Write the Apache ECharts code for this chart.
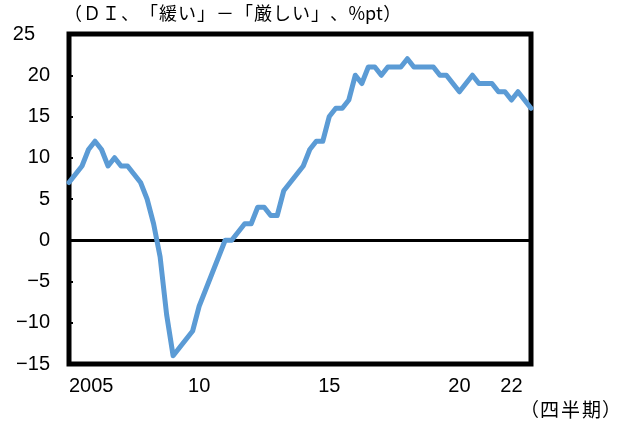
<!DOCTYPE html>
<html>
<head>
<meta charset="utf-8">
<script src="https://cdn.jsdelivr.net/npm/echarts@6/dist/echarts.min.js"></script>
<style>
  html, body { margin: 0; padding: 0; background: #fff; }
  #chart { width: 623px; height: 428px; }
</style>
</head>
<body>
<div id="chart"></div>
<script>
(function(){

// quarters 2005Q1 .. 2022Q4
var quarters = []
for (var y = 2005; y <= 2022; y++) {
	for (var q = 1; q <= 4; q++) quarters.push(y + 'Q' + q)
}

// DI values
var diValues = [
	7, 8, 9, 11, 12, 11, 9, 10, 9, 9, 8, 7,
	5, 2, -2, -9, -14, -13, -12, -11, -8, -6, -4, -2,
	0, 0, 1, 2, 2, 4, 4, 3, 3, 6, 7, 8,
	9, 11, 12, 12, 15, 16, 16, 17, 20, 19, 21, 21,
	20, 21, 21, 21, 22, 21, 21, 21, 21, 20, 20, 19,
	18, 19, 20, 19, 19, 19, 18, 18, 17, 18, 17, 16
]

// x tick labels at Q1 of these years
var tickLabels = { '2005Q1': '2005', '2010Q1': '10', '2015Q1': '15', '2020Q1': '20', '2022Q1': '22' }

var yTicks = { min: -15, max: 25, step: 5 }

var titleParts = ['（', 'Ｄ', 'Ｉ', '、', '「', '緩', 'い', '」', '－', '「', '厳', 'し', 'い', '」', '、', '%pt', '）']
var unitParts = ['（', '四', '半', '期', '）']

var labelFont = '"Liberation Sans", sans-serif'
var cjkFont = '"Noto Sans CJK JP", sans-serif'

// each full-width glyph gets a fixed 1em cell, like a monospaced gothic font
function richText(parts) {
	return parts.map(function(p) {
		return (p.length > 1 ? '{h|' : '{c|') + p + '}'
	}).join('')
}

function unitText(parts) {
	return parts.map(function(p) {
		var k = p === '（' ? 'o' : (p === '）' ? 'x' : 'c')
		return '{' + k + '|' + p + '}'
	}).join('')
}

var chart = echarts.init(document.getElementById('chart'))

chart.setOption({
	animation: false,
	backgroundColor: '#fff',
	grid: {
		left: 69, right: 92, top: 34, bottom: 64,
		show: true, borderColor: '#000', borderWidth: 5,
		containLabel: false
	},
	xAxis: {
		type: 'category',
		data: quarters,
		boundaryGap: false,
		axisLine: { show: false, onZero: false },
		axisTick: { show: false },
		splitLine: { show: false },
		axisLabel: {
			interval: function(idx, val) { return tickLabels[val] !== undefined },
			formatter: function(val) { return tickLabels[val] || '' },
			color: '#000',
			fontSize: 20,
			fontFamily: labelFont,
			margin: 12,
			alignMinLabel: 'left'
		}
	},
	yAxis: {
		type: 'value',
		min: yTicks.min,
		max: yTicks.max,
		interval: yTicks.step,
		axisLine: { show: false },
		axisTick: { show: true, inside: true, length: 4, lineStyle: { color: '#000', width: 2 } },
		splitLine: { show: false },
		axisLabel: {
			color: '#000',
			fontSize: 20,
			fontFamily: labelFont,
			margin: 19,
			formatter: function(v) {
				var s = String(v).replace('-', '−')
				return v === yTicks.max ? '{top|' + s + '}' : s
			},
			rich: {
				top: { fontSize: 20, fontFamily: labelFont, color: '#000', padding: [0, 15, 0, 0] }
			}
		}
	},
	series: [{
		type: 'line',
		data: diValues,
		symbol: 'none',
		lineStyle: { color: '#5B9BD5', width: 5, cap: 'round', join: 'round' },
		z: 3,
		markLine: {
			silent: true,
			symbol: 'none',
			label: { show: false },
			lineStyle: { color: '#000', width: 3, type: 'solid' },
			data: [{ yAxis: 0 }],
			z: 2
		}
	}],
	graphic: [
		{
			type: 'text',
			left: 64, top: 4,
			style: {
				text: richText(titleParts),
				rich: {
					c: { fill: '#000', fontSize: 18, fontFamily: cjkFont, width: 19, align: 'center' },
					h: { fill: '#000', fontSize: 18, fontFamily: cjkFont }
				}
			}
		},
		{
			type: 'text',
			right: 2, top: 400,
			style: {
				text: unitText(unitParts),
				rich: {
					o: { fill: '#000', fontSize: 19, fontFamily: cjkFont, width: 19, align: 'right' },
					c: { fill: '#000', fontSize: 19, fontFamily: cjkFont, width: 21, align: 'center' },
					x: { fill: '#000', fontSize: 19, fontFamily: cjkFont, width: 19, align: 'left' }
				}
			}
		}
	]
})

})()
</script>
</body>
</html>
